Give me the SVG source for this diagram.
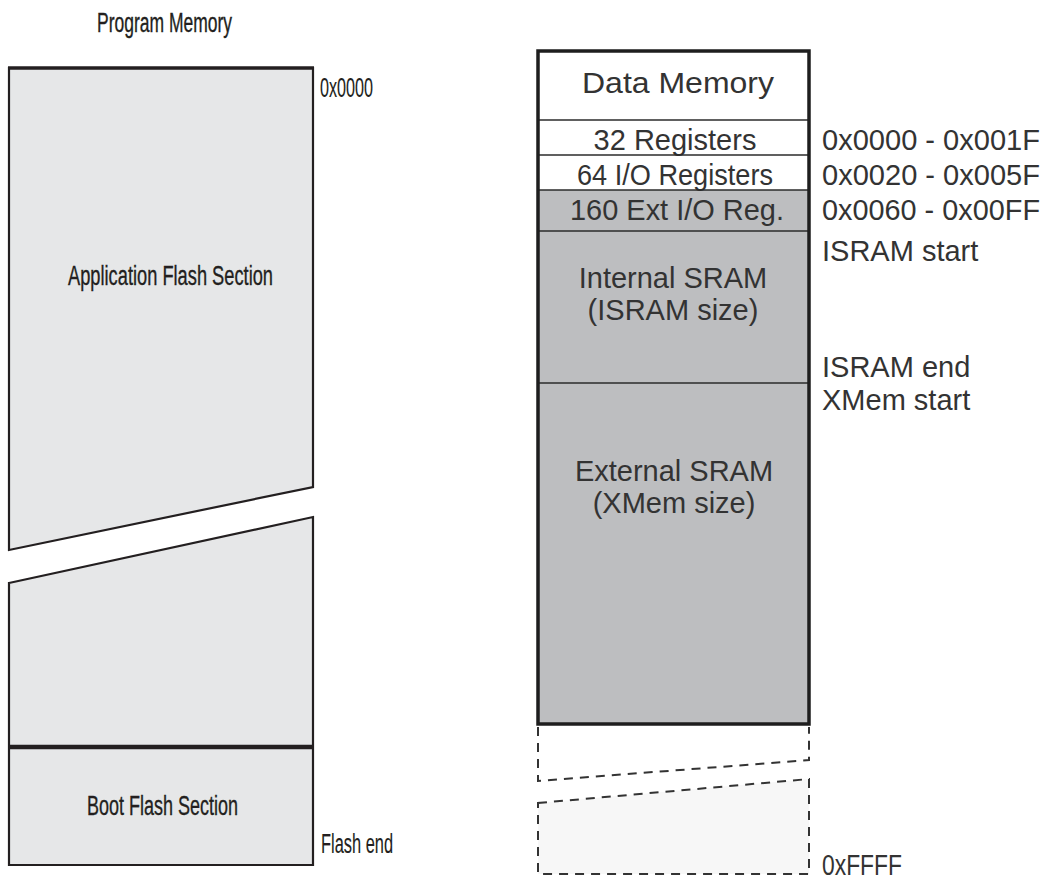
<svg xmlns="http://www.w3.org/2000/svg" width="1055" height="882" viewBox="0 0 1055 882">
<style>
.narrow{font-family:"Liberation Sans Narrow","Liberation Sans",Arial,sans-serif;font-size:27px;fill:#231f20;stroke:#231f20;stroke-width:0.35}
.reg{font-family:"Liberation Sans",Arial,sans-serif;font-size:29px;fill:#333333}
.flash{fill:#e6e7e8;stroke:#231f20;stroke-width:2.2;stroke-linejoin:miter}
.gray{fill:#bdbec0}
.thin{stroke:#2b2b2b;stroke-width:1.6}
.dash{fill:none;stroke:#333333;stroke-width:2;stroke-dasharray:9 7}
</style>
<rect width="1055" height="882" fill="#ffffff"/>

<g id="program-memory">
  <text class="narrow" x="97" y="32" textLength="135" lengthAdjust="spacingAndGlyphs">Program Memory</text>
  <g id="app-flash">
    <polygon class="flash" points="9,68 313,68 313,487 9,550"/>
    <line x1="8" y1="68" x2="314" y2="68" stroke="#231f20" stroke-width="3.5"/>
    <text class="narrow" x="68" y="285" textLength="205" lengthAdjust="spacingAndGlyphs">Application Flash Section</text>
  </g>
  <g id="app-flash-lower">
    <polygon class="flash" points="9,583 313,517 313,865 9,865"/>
  </g>
  <g id="boot-flash">
    <line x1="8" y1="747" x2="314" y2="747" stroke="#231f20" stroke-width="4.5"/>
    <text class="narrow" x="87" y="815" textLength="151" lengthAdjust="spacingAndGlyphs">Boot Flash Section</text>
  </g>
  <text class="narrow" x="320" y="97" textLength="53" lengthAdjust="spacingAndGlyphs" style="stroke-width:0.1">0x0000</text>
  <text class="narrow" x="321" y="853" textLength="72" lengthAdjust="spacingAndGlyphs" style="stroke-width:0.1">Flash end</text>
</g>

<g id="data-memory">
  <rect x="538" y="51" width="271" height="673" fill="#ffffff"/>
  <rect class="gray" x="538" y="190" width="271" height="534"/>
  <g id="title">
    <text class="reg" x="678" y="93" text-anchor="middle" textLength="192" lengthAdjust="spacingAndGlyphs">Data Memory</text>
  </g>
  <g id="regs32">
    <line class="thin" x1="538" y1="120" x2="809" y2="120"/>
    <text class="reg" x="675" y="150" text-anchor="middle">32 Registers</text>
  </g>
  <g id="regs64">
    <line class="thin" x1="538" y1="155" x2="809" y2="155"/>
    <text class="reg" x="675" y="185" text-anchor="middle" textLength="196" lengthAdjust="spacingAndGlyphs">64 I/O Registers</text>
  </g>
  <g id="ext-io">
    <line class="thin" x1="538" y1="190" x2="809" y2="190"/>
    <text class="reg" x="677" y="220" text-anchor="middle" textLength="214" lengthAdjust="spacingAndGlyphs">160 Ext I/O Reg.</text>
  </g>
  <g id="isram">
    <line class="thin" x1="538" y1="231" x2="809" y2="231"/>
    <text class="reg" x="673" y="288" text-anchor="middle">Internal SRAM</text>
    <text class="reg" x="673" y="320" text-anchor="middle">(ISRAM size)</text>
  </g>
  <g id="xmem">
    <line class="thin" x1="538" y1="383" x2="809" y2="383"/>
    <text class="reg" x="674" y="481" text-anchor="middle">External SRAM</text>
    <text class="reg" x="674" y="513" text-anchor="middle">(XMem size)</text>
  </g>
  <rect x="538" y="51" width="271" height="673" fill="none" stroke="#1e1e1e" stroke-width="3.5"/>
</g>

<g id="data-memory-ext">
  <path class="dash" d="M538,727 L538,781 L809,760 L809,727"/>
  <polygon points="538,803 809,779 809,874 538,874" fill="#f7f7f7"/>
  <polygon class="dash" points="538,803 809,779 809,874 538,874"/>
</g>

<g id="addresses">
  <text class="reg" x="822" y="150" textLength="218" lengthAdjust="spacingAndGlyphs">0x0000 - 0x001F</text>
  <text class="reg" x="822" y="185" textLength="218" lengthAdjust="spacingAndGlyphs">0x0020 - 0x005F</text>
  <text class="reg" x="822" y="220" textLength="218" lengthAdjust="spacingAndGlyphs">0x0060 - 0x00FF</text>
  <text class="reg" x="822" y="261">ISRAM start</text>
  <text class="reg" x="822" y="377">ISRAM end</text>
  <text class="reg" x="822" y="410">XMem start</text>
  <text class="reg" x="822" y="875" textLength="80" lengthAdjust="spacingAndGlyphs">0xFFFF</text>
</g>
</svg>
